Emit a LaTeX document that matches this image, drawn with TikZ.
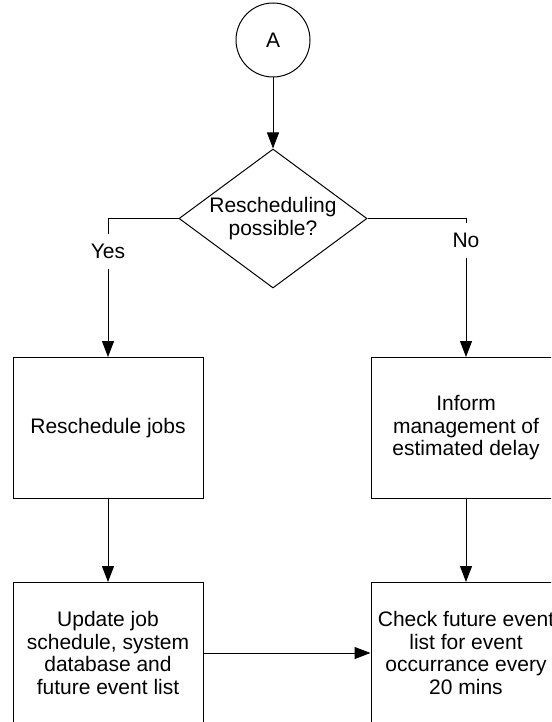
\documentclass[tikz,border=0pt]{standalone}
\usepackage{fontspec}
\setmainfont{Liberation Sans}
\usetikzlibrary{positioning}
\usetikzlibrary{shapes.geometric}
\usetikzlibrary{arrows.meta}

\begin{document}
\begin{tikzpicture}[x=1pt,y=1pt,node distance=1em and 2em,>={Triangle[width=12pt,length=16pt]},line width=1pt,
    every node/.style={font=\fontsize{21}{22.5}\selectfont},
    conn/.style={draw,circle,minimum size=74pt,inner sep=0pt},
    decision/.style={draw,diamond,aspect=1.35,inner sep=0pt,minimum width=188pt,minimum height=139pt,align=center},
    box/.style={draw,rectangle,minimum width=190pt,minimum height=141pt,align=center},
    lbl/.style={fill=white,inner xsep=2pt,inner ysep=10pt}]
    \clip (0,0) rectangle (551,-722);
    \node (A) [conn] at (273,-40) {A};
    \node (dec) [decision, below=71pt of A] {Rescheduling\\possible?};
    \node (resched) [box] at (108,-428) {Reschedule jobs};
    \node (update) [box, below=83pt of resched] {Update job\\schedule, system\\database and\\future event list};
    \node (inform) [box, right=167pt of resched] {Inform\\management of\\estimated delay};
    \node (check) [box, right=167pt of update] {Check future event\\list for event\\occurrance every\\20 mins};

    \draw[->]
      (A) edge (dec)
      (resched) edge (update)
      (inform) edge (check)
      (update) edge (check)
    ;
    \draw[->] (dec) -| node[lbl, pos=0.62] {Yes} (resched);
    \draw[->] (dec) -| node[lbl, pos=0.58] {No} (inform);
  \end{tikzpicture}
\end{document}
